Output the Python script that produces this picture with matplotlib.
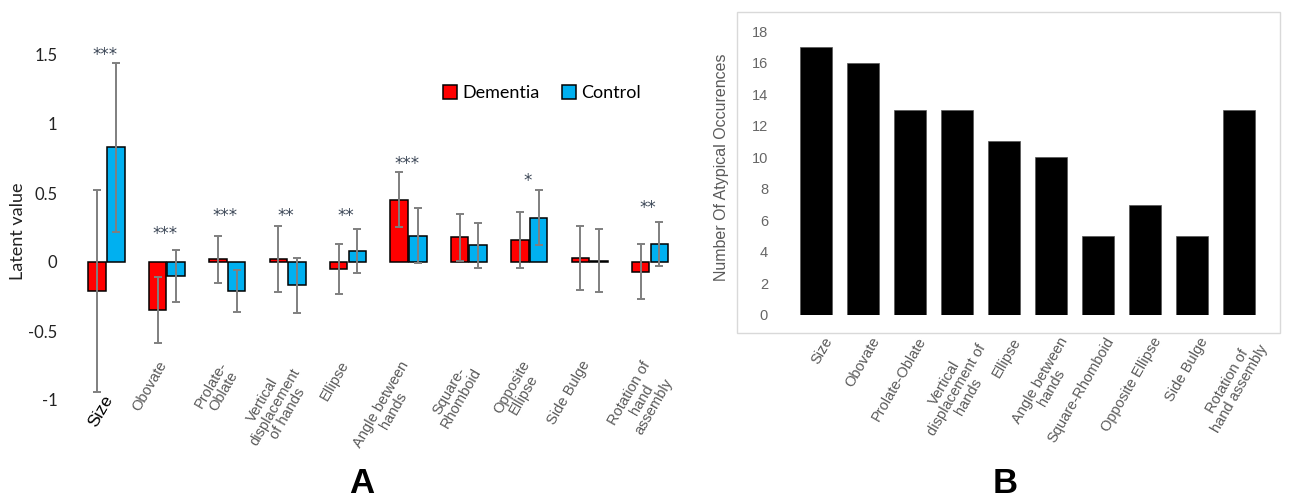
import matplotlib.pyplot as plt
import numpy as np
from matplotlib.patches import Rectangle

# panel A: latent values (mean and sd) per feature
labels_a = ["Size", "Obovate", "Prolate-\nOblate", "Vertical\ndisplacement\nof hands", "Ellipse",
            "Angle between\nhands", "Square-\nRhomboid", "Opposite\nEllipse", "Side Bulge",
            "Rotation of\nhand\nassembly"]
dementia_mean = [-0.21, -0.35, 0.02, 0.02, -0.05, 0.45, 0.18, 0.16, 0.03, -0.07]
dementia_sd = [0.73, 0.24, 0.17, 0.24, 0.18, 0.20, 0.17, 0.20, 0.23, 0.20]
control_mean = [0.83, -0.10, -0.21, -0.17, 0.08, 0.19, 0.12, 0.32, 0.01, 0.13]
control_sd = [0.61, 0.19, 0.15, 0.20, 0.16, 0.20, 0.16, 0.20, 0.23, 0.16]
stars = ["***", "***", "***", "**", "**", "***", "", "*", "", "**"]
star_y = [1.50, 0.20, 0.33, 0.33, 0.33, 0.71, 0, 0.59, 0, 0.39]

# panel B: number of atypical occurences per feature
labels_b = ["Size", "Obovate", "Prolate-Oblate", "Vertical\ndisplacement of\nhands", "Ellipse",
            "Angle between\nhands", "Square-Rhomboid", "Opposite Ellipse", "Side Bulge",
            "Rotation of\nhand assembly"]
atypical = [17, 16, 13, 13, 11, 10, 5, 7, 5, 13]

W, H = 1290, 498
fig = plt.figure(figsize=(W / 100, H / 100), dpi=100)


def px_axes(l, t, r, b):
    return fig.add_axes([l / W, 1 - b / H, (r - l) / W, (b - t) / H])


# ---- panel A ----
axA = px_axes(70, 55, 680, 400)
x = np.arange(len(labels_a))
w = 0.29
err_kw = dict(ecolor="#7f7f7f", elinewidth=1.4, capsize=3, capthick=1.4, zorder=3)
bd = axA.bar(x - 0.155, dementia_mean, w, color="#ff0000", edgecolor="black", linewidth=1.1,
             yerr=dementia_sd, error_kw=err_kw)
bc = axA.bar(x + 0.155, control_mean, w, color="#00b0f0", edgecolor="black", linewidth=1.1,
             yerr=control_sd, error_kw=err_kw)
axA.set_xlim(-0.604, 9.495)
axA.set_ylim(-1, 1.5)
axA.set_yticks([-1, -0.5, 0, 0.5, 1, 1.5])
axA.set_yticklabels(["-1", "-0.5", "0", "0.5", "1", "1.5"], fontsize=12, family="Lato", color="#222222")
axA.set_xticks([])
axA.tick_params(axis="y", length=0, pad=9)
for s in axA.spines.values():
    s.set_visible(False)

for i, s in enumerate(stars):
    if s:
        axA.text(i - 0.03, star_y[i], s, ha="center", va="center", fontsize=12, color="#3b4656")

for i, lab in enumerate(labels_a):
    if i == 0:
        axA.text(i - 0.06, 0.02, lab, transform=axA.get_xaxis_transform(), rotation=60, ha="right", va="top",
                 rotation_mode="anchor", fontsize=12.5, color="black", family="Liberation Sans")
    else:
        axA.text(i - 0.15, 0.12, lab, transform=axA.get_xaxis_transform(), rotation=60, ha="right", va="top",
                 rotation_mode="anchor", multialignment="center", fontsize=10.5, color="#595959",
                 family="Liberation Sans", linespacing=1.0)

axA.legend([bd, bc], ["Dementia", "Control"], loc="center", bbox_to_anchor=(542 / W, 1 - 93 / H),
           bbox_transform=fig.transFigure, ncol=2, frameon=False, handlelength=0.8, handleheight=0.8,
           columnspacing=1.2, handletextpad=0.3, prop={"family": "Lato", "size": 13})

fig.text(18 / W, 1 - 231 / H, "Latent value", rotation=90, ha="center", va="center", fontsize=13,
         family="Lato", color="#222222")

# ---- panel B ----
axB = px_axes(775, 31, 1270, 315)
xb = np.arange(len(labels_b))
axB.bar(xb, atypical, 0.68, color="black", edgecolor="#555555", linewidth=0.5)
axB.set_xlim(-0.872, 9.66)
axB.set_ylim(0, 18)
axB.set_yticks(range(0, 19, 2))
axB.set_yticklabels([str(v) for v in range(0, 19, 2)], fontsize=10.5, family="Liberation Sans", color="#666666")
axB.set_xticks([])
axB.tick_params(axis="y", length=0, pad=5)
for s in axB.spines.values():
    s.set_visible(False)

for i, lab in enumerate(labels_b):
    axB.text(i + 0.15, -0.07, lab, transform=axB.get_xaxis_transform(), rotation=60, ha="right", va="top",
             rotation_mode="anchor", multialignment="center", fontsize=10.5, color="#595959",
             family="Liberation Sans", linespacing=1.0)

fig.text(722 / W, 1 - 167 / H, "Number Of Atypical Occurences", rotation=90, ha="center", va="center",
         fontsize=11.5, family="Liberation Sans", color="#595959")

fig.patches.append(Rectangle((737 / W, 1 - 333 / H), (1280 - 737) / W, (333 - 12) / H,
                             transform=fig.transFigure, fill=False, edgecolor="#d9d9d9", linewidth=1))

fig.text(362 / W, 1 - 483 / H, "A", fontsize=25, weight="bold", ha="center", va="center", family="Liberation Sans")
fig.text(1005 / W, 1 - 483 / H, "B", fontsize=25, weight="bold", ha="center", va="center", family="Liberation Sans")

fig.savefig("out.png", dpi=100, facecolor="white")
